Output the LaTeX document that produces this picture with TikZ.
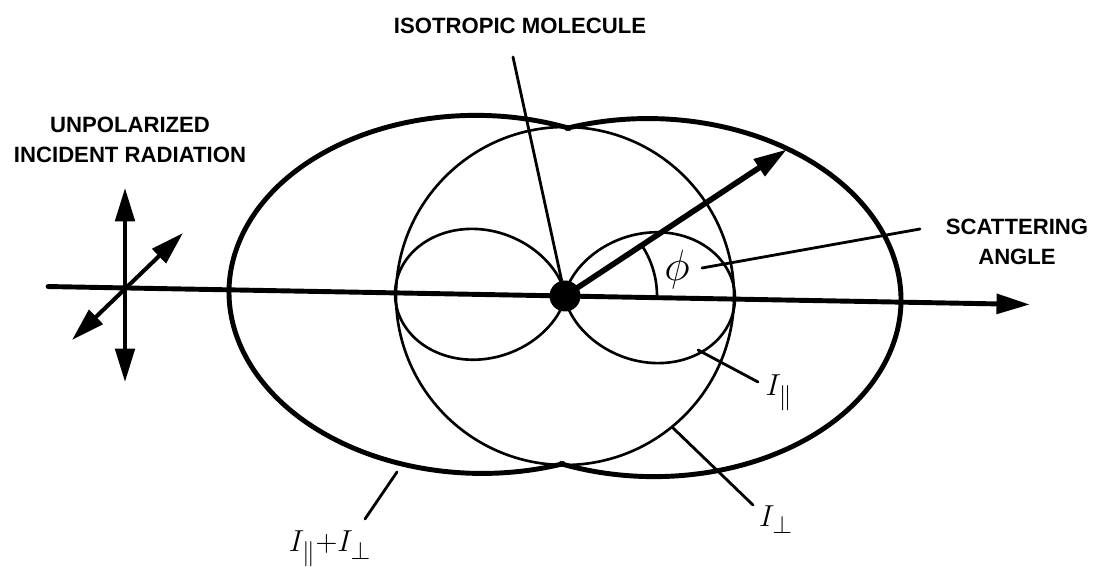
\documentclass[tikz,border=0pt]{standalone}
\usepackage{fontspec}
\usepackage{amsmath}
\newfontfamily\labelfont{Liberation Sans}
\usetikzlibrary{
    arrows.meta,
    positioning,
    calc
}
\tikzset{
    % --- Bold capital caption ---
    caption/.style = {
        font=\labelfont\bfseries\fontsize{12.6}{17}\selectfont,
        align=center, inner sep=0pt
    },
    % --- Math symbol label ---
    symbol/.style = {
        font=\fontsize{19}{21}\selectfont, inner sep=0pt
    },
    % --- Thick outer envelope (sum) ---
    envelope/.style = {
        line width=2.8pt, line cap=butt
    },
    % --- Thin pattern curve (lobes, circle, angle) ---
    lobe line/.style = {
        line width=1.5pt
    },
    % --- Leader line from a label ---
    leader/.style = {
        line width=1.6pt
    },
    % --- Big filled arrow head ---
    big tip/.tip = {Triangle[length=19pt, width=11pt]},
    % --- Beam axis ---
    beam/.style = {
        line width=2.8pt, -big tip
    },
    % --- Scattered ray ---
    ray/.style = {
        line width=3.2pt, -big tip
    },
    % --- Polarization double arrow ---
    pol arrow/.style = {
        line width=2.3pt, big tip-big tip
    },
    % --- Molecule dot ---
    dot/.style = {
        circle, fill=black,
        minimum size=0.62cm, inner sep=0pt
    }
}

\begin{document}
\begin{tikzpicture}[x=0.02cm, y=0.02cm, line cap=round]

\useasboundingbox (0,0) rectangle (1097,574);

% ---------------------------------------------------------
% Labels
% ---------------------------------------------------------
\node[caption] (IsoLabel) at (520,548) {ISOTROPIC MOLECULE};
\node[caption] (RadLabel) at (130,434) {UNPOLARIZED\\INCIDENT RADIATION};
\node[caption] (AngLabel) at (1017,332) {SCATTERING\\ANGLE};

\node[symbol] (IPar) at (779,181) {$I_{\parallel}$};
\node[symbol] (IPerp) at (776,54) {$I_{\perp}$};
\node[symbol] (ISum) at (330,25) {$I_{\parallel}{+}I_{\perp}$};
\node[symbol, font=\fontsize{24}{26}\selectfont] (Phi) at (677,304) {$\phi$};

% ---------------------------------------------------------
% Scattering pattern (slightly tilted scan)
% ---------------------------------------------------------
\coordinate (Ctr) at (565,278);

\begin{scope}[shift={(Ctr)}, rotate=-1.05]
    \coordinate (AxisL) at (-517,0);
    \coordinate (AxisR) at (465,0);
    \coordinate (RayTip) at (34.5:266);

    % I_perp: circle
    \draw[lobe line] (0,0) circle[radius=169];

    % I_par: two cos^2 lobes
    \draw[lobe line] plot[domain=-90:90, samples=90, smooth]
        ({170*cos(\x)*cos(\x)*cos(\x)}, {170*cos(\x)*cos(\x)*sin(\x)});
    \draw[lobe line] plot[domain=90:270, samples=90, smooth]
        ({170*cos(\x)*cos(\x)*cos(\x)}, {170*cos(\x)*cos(\x)*sin(\x)});

    % I_par + I_perp: outer envelope
    \draw[envelope] ($(-86,0)+(69.2:250 and 179)$)
        arc[start angle=69.2, end angle=290.8, x radius=250, y radius=179];
    \draw[envelope] ($(86,0)+(-110.8:250 and 179)$)
        arc[start angle=-110.8, end angle=110.8, x radius=250, y radius=179];

    % scattering angle
    \draw[lobe line] (92,0) arc[start angle=0, end angle=34.5, radius=92];
\end{scope}

% beam axis and scattered ray
\draw[beam] (AxisL) -- (AxisR);
\draw[ray] (Ctr) -- (RayTip);

% ---------------------------------------------------------
% Incident polarization
% ---------------------------------------------------------
\coordinate (VTop) at (125,386);
\coordinate (VBot) at (125,192);
\coordinate (DTop) at (183,341);
\coordinate (DBot) at (72,234);
\draw[pol arrow] (VBot) -- (VTop);
\draw[pol arrow] (DBot) -- (DTop);

% ---------------------------------------------------------
% Leader lines
% ---------------------------------------------------------
\coordinate (IsoFoot) at (513,517);
\draw[leader] (IsoFoot) -- (Ctr);

\coordinate (PhiFoot) at (702,306);
\coordinate (AngFoot) at (920,345);
\draw[leader] (PhiFoot) -- (AngFoot);

\coordinate (ParFoot) at (698,224);
\coordinate (ParEnd) at (758,192);
\draw[leader] (ParFoot) -- (ParEnd);

\coordinate (PerpFoot) at (672,147);
\coordinate (PerpEnd) at (753,69);
\draw[leader] (PerpFoot) -- (PerpEnd);

\coordinate (SumFoot) at (397,102);
\coordinate (SumEnd) at (365,55);
\draw[leader] (SumFoot) -- (SumEnd);

% molecule
\node[dot] (Mol) at (Ctr) {};

\end{tikzpicture}
\end{document}
